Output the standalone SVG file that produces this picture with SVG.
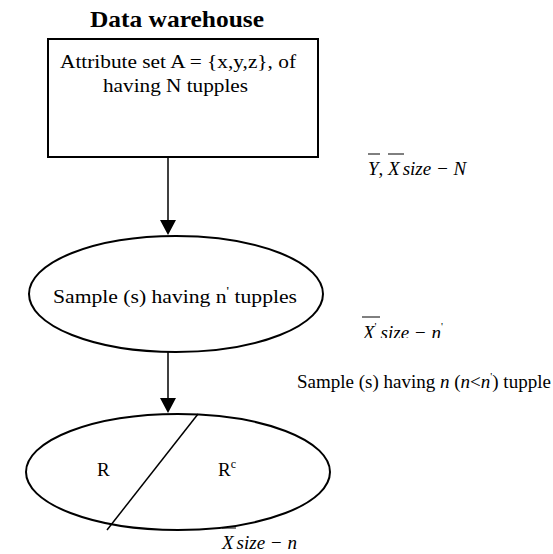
<svg xmlns="http://www.w3.org/2000/svg" width="553" height="554" viewBox="0 0 553 554">
<style>
.t{font-family:"Liberation Serif","Times New Roman",serif;fill:#000;font-size:19px}
.i{font-style:italic}
.b{font-weight:bold;font-size:24px}
.s{fill:none;stroke:#000;stroke-width:2}
.l{stroke:#000;stroke-width:1.5}
.o{stroke:#000;stroke-width:1}
</style>
<defs>
<clipPath id="clip2"><rect x="300" y="300" width="200" height="38"/></clipPath>
</defs>
<rect width="553" height="554" fill="#fff"/>
<text class="t b" x="90" y="27" textLength="174" lengthAdjust="spacingAndGlyphs">Data warehouse</text>
<g id="box">
<rect class="s" x="48" y="39" width="270" height="118"/>
<text class="t" x="60" y="68" textLength="236" lengthAdjust="spacingAndGlyphs">Attribute set A = {x,y,z}, of</text>
<text class="t" x="103" y="92" textLength="145" lengthAdjust="spacingAndGlyphs">having N tupples</text>
</g>
<g id="sample1">
<ellipse class="s" cx="176" cy="294" rx="147" ry="58"/>
<text class="t" x="53" y="303" textLength="244" lengthAdjust="spacingAndGlyphs">Sample (s) having n<tspan dy="-8" font-size="12">'</tspan><tspan dy="8"> tupples</tspan></text>
</g>
<g id="sample2">
<ellipse class="s" cx="178" cy="472" rx="152" ry="58"/>
<line class="l" x1="198" y1="414" x2="107" y2="530"/>
<text class="t" x="97" y="476">R</text>
<text class="t" x="218" y="476">R<tspan dy="-8" font-size="12">c</tspan></text>
</g>
<g id="connectors">
<line class="l" x1="168" y1="157" x2="168" y2="221"/>
<polygon points="160,220 176,220 168,235"/>
<line class="l" x1="168" y1="352" x2="168" y2="399"/>
<polygon points="160,398 176,398 168,413"/>
</g>
<g id="labels">
<text class="t i" x="368" y="175" font-size="20">Y<tspan font-style="normal">, </tspan>X<tspan dx="3">size − N</tspan></text>
<line class="o" x1="368" y1="154" x2="380" y2="154"/>
<line class="o" x1="388" y1="154" x2="404" y2="154"/>
<g clip-path="url(#clip2)">
<text class="t i" x="363" y="339">X<tspan dy="-9" font-size="11" font-style="normal">'</tspan><tspan dy="9" dx="4">size − n</tspan><tspan dy="-9" font-size="11" font-style="normal">'</tspan></text>
</g>
<line class="o" x1="362" y1="317" x2="380" y2="317"/>
<text class="t" x="297" y="388">Sample (s) having <tspan class="i">n</tspan> (<tspan class="i">n</tspan>&lt;<tspan class="i">n</tspan><tspan dy="-8" font-size="11">'</tspan><tspan dy="8">) tupple</tspan></text>
<text class="t i" x="222" y="549">X<tspan dx="3">size − n</tspan></text>
<line class="o" x1="222" y1="528" x2="236" y2="528"/>
</g>
</svg>
